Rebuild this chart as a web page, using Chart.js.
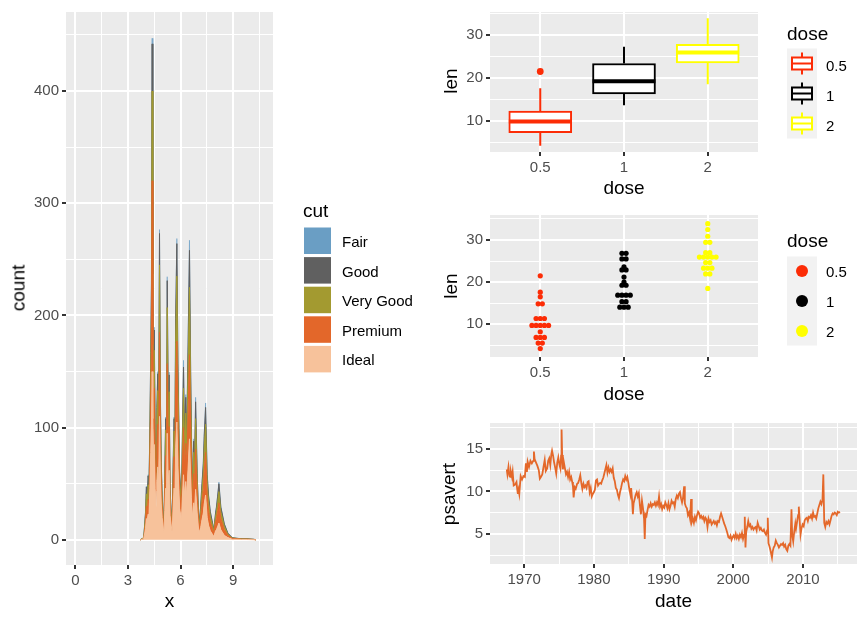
<!DOCTYPE html>
<html><head><meta charset="utf-8">
<script src="https://cdn.jsdelivr.net/npm/chart.js@4.4.1/dist/chart.umd.min.js"></script>
<style>
body{margin:0;background:#fff;width:866px;height:619px;overflow:hidden;position:relative;font-family:'Liberation Sans',Arial,Helvetica,sans-serif;}
canvas{position:absolute;left:0;top:0;}
.t{position:absolute;white-space:nowrap;color:#000;transform:translate(-50%,-50%);line-height:1;}
.ti{font-size:19px;}
.lt{font-size:19px;transform:translate(0,-50%);}
.ll{font-size:15px;transform:translate(0,-50%);}
.rot{transform:translate(-50%,-50%) rotate(-90deg);}
svg{position:absolute;left:0;top:0;}
</style></head>
<body>
<canvas id="c1" width="866" height="619"></canvas>
<canvas id="c2" width="866" height="619"></canvas>
<canvas id="c3" width="866" height="619"></canvas>
<canvas id="c4" width="866" height="619"></canvas>
<div id="overlay"></div>
<script>
// ---------- DATA ----------
// Left: stacked area of diamonds x by cut
const cutNames = ['Fair','Good','Very Good','Premium','Ideal'];
const cutX = [3.7,3.9,4.0,4.05,4.1,4.15,4.2,4.25,4.3,4.34, 4.38,4.42,4.46,4.5,4.55,4.6,4.65,4.7,4.75,4.8, 4.85,4.9,4.95,5.05,5.1,5.15,5.2,5.24,5.3,5.35, 5.4,5.52,5.58,5.63,5.68,5.72,5.79,5.85,5.9,5.95, 6.05,6.1,6.17,6.22,6.3,6.35,6.45,6.51,6.58,6.62, 6.67,6.75,6.8,6.86,6.95,7.05,7.15,7.2,7.3,7.35, 7.43,7.52,7.6,7.7,7.9,8.0,8.05,8.12,8.19,8.3, 8.5,8.7,8.95,9.2,9.5,9.8,10.2,10.3];
const idealCount   = [0,1,10,19,17,23,22,46,78,104, 150,108,72,85,46,30,52,65,48,110, 56,32,20,6,26,46,39,95,50,62, 22,6,30,46,38,82,105,66,46,28, 17,36,58,40,52,38,70,90,55,38, 20,33,26,45,24,6,11,16,24,32, 40,20,13,8,3,8,9,12,15,9, 4,2,0.5,0.5,0.3,0.3,0.1,0];
const premiumCount = [0,0,5,11,9,13,11,24,44,62, 170,66,42,50,26,14,31,38,28,75, 34,17,9,2,15,29,23,62,31,39, 10,2,18,28,23,52,72,42,28,15, 8,23,42,26,34,24,55,75,42,28, 11,26,20,36,17,3,9,13,21,29, 38,19,13,8,3,8,10,14,18,10, 5,2,0.8,0.5,0.3,0.3,0.2,0];
const veryGoodCount= [0,1,6,11,9,13,10,18,30,40, 80,42,28,34,17,10,23,30,22,60, 25,13,7,1,12,23,18,50,25,31, 8,1,14,23,19,42,58,33,23,11, 5,18,35,21,27,18,45,60,33,21, 8,19,15,27,12,2,6,9,14,19, 25,12,8,5,2,5,6,8,10,6, 3,1,0.4,0.3,0.2,0.2,0.1,0];
const goodCount    = [0,0,3,6,5,8,6,10,15,21, 42,21,15,18,9,6,12,15,10,28, 13,7,4,1,6,10,8,24,12,15, 5,1,7,11,8,21,29,16,11,6, 3,11,19,11,14,8,24,33,17,11, 5,10,7,15,6,1,4,6,9,12, 15,7,5,4,1,3,4,5,7,4, 2,1,0.2,0.1,0.1,0.1,0.05,0];
const fairCount    = [0,0,0.5,1,0.5,1,1,1.5,2.5,3, 5,3,2.5,2.5,1.5,0.5,2,2,1.5,3.5, 2,1,0.5,0,1,1.5,1.5,3.5,2,2.5, 0.5,0,1,1.5,1.5,3,4.5,2.5,1.5,0.5, 0.5,2,6,2,2.5,1.5,6,9,3,2, 0.5,2,1.5,4,1,0,0.5,1,2,2.5, 4,1.5,1,0.5,0,0.5,1,1,1.5,1, 0.5,0,0.1,0.1,0.1,0.1,0.05,0];
const cutColors = ['#6A9EC4','#606060','#A39A30','#E3672A','#F7C29B'];

// Right: ToothGrowth len by dose
const doseLabels = ['0.5','1','2'];
const doseColors = ['#FC2C06','#000000','#FFFF00'];
const lenDose05 = [4.2,11.5,7.3,5.8,6.4,10,11.2,11.2,5.2,7,15.2,21.5,17.6,9.7,14.5,10,8.2,9.4,16.5,9.7];
const lenDose1  = [16.5,16.5,15.2,17.3,22.5,17.3,13.6,14.5,18.8,15.5,19.7,23.3,23.6,26.4,20,25.2,25.8,21.2,14.5,27.3];
const lenDose2  = [23.6,18.5,33.9,25.5,26.4,32.5,26.7,21.5,23.3,29.5,25.5,26.4,22.4,24.5,24.8,30.9,26.4,27.3,29.4,23];

// Bottom right: personal savings rate
const psavertDate = [
 1967.5,1967.6,1967.75,1967.9,
 1968.0,1968.1,1968.25,1968.35,1968.5,1968.7,1968.9,
 1969.0,1969.1,1969.2,1969.3,1969.5,1969.7,1969.9,
 1970.1,1970.25,1970.4,1970.5,1970.7,1970.9,
 1971.1,1971.3,1971.4,1971.5,1971.75,1971.9,
 1972.1,1972.25,1972.4,1972.6,1972.8,1972.95,
 1973.1,1973.3,1973.45,1973.6,1973.75,1973.9,
 1974.0,1974.15,1974.3,1974.45,1974.6,1974.75,1974.9,
 1975.05,1975.2,1975.3,1975.37,1975.45,1975.55,1975.7,1975.85,
 1976.0,1976.15,1976.3,1976.45,1976.6,1976.75,1976.9,
 1977.0,1977.1,1977.25,1977.4,1977.6,1977.75,1977.9,
 1978.05,1978.2,1978.35,1978.5,1978.65,1978.8,1978.95,
 1979.1,1979.25,1979.4,1979.55,1979.7,1979.85,
 1980.0,1980.15,1980.3,1980.45,1980.6,1980.75,1980.9,
 1981.05,1981.2,1981.35,1981.5,1981.65,1981.8,1981.95,
 1982.1,1982.25,1982.4,1982.55,1982.7,1982.85,
 1983.0,1983.15,1983.3,1983.45,1983.6,1983.75,1983.9,
 1984.05,1984.2,1984.35,1984.5,1984.65,1984.8,1984.95,
 1985.1,1985.25,1985.35,1985.5,1985.6,1985.7,1985.85,
 1986.0,1986.15,1986.3,1986.45,1986.6,1986.75,1986.9,
 1987.05,1987.2,1987.3,1987.4,1987.55,1987.7,1987.85,
 1988.0,1988.15,1988.3,1988.45,1988.6,1988.75,1988.9,
 1989.05,1989.2,1989.35,1989.5,1989.65,1989.8,1989.95,
 1990.1,1990.25,1990.4,1990.55,1990.7,1990.85,
 1991.0,1991.15,1991.3,1991.45,1991.6,1991.75,1991.9,
 1992.05,1992.2,1992.35,1992.5,1992.65,1992.8,1992.95,
 1993.05,1993.2,1993.35,1993.5,1993.65,1993.8,1993.95,
 1994.05,1994.2,1994.35,1994.5,1994.65,1994.8,1994.95,
 1995.1,1995.25,1995.4,1995.55,1995.7,1995.85,
 1996.0,1996.15,1996.3,1996.45,1996.6,1996.75,1996.9,
 1997.05,1997.2,1997.35,1997.5,1997.65,1997.8,1997.95,
 1998.1,1998.25,1998.4,1998.55,1998.7,1998.85,
 1999.0,1999.15,1999.3,1999.45,1999.6,1999.75,1999.9,
 2000.05,2000.2,2000.35,2000.5,2000.65,2000.8,2000.95,
 2001.1,2001.25,2001.4,2001.55,2001.65,2001.75,2001.85,
 2002.0,2002.15,2002.3,2002.45,2002.6,2002.75,2002.9,
 2003.05,2003.2,2003.35,2003.5,2003.65,2003.8,2003.95,
 2004.1,2004.25,2004.4,2004.55,2004.7,2004.85,2004.95,
 2005.05,2005.2,2005.35,2005.55,2005.65,2005.8,2005.95,
 2006.1,2006.25,2006.4,2006.55,2006.7,2006.85,
 2007.0,2007.15,2007.3,2007.45,2007.6,2007.75,2007.9,
 2008.05,2008.2,2008.35,2008.45,2008.6,2008.75,2008.9,
 2009.0,2009.15,2009.3,2009.4,2009.55,2009.65,2009.8,2009.95,
 2010.1,2010.25,2010.4,2010.55,2010.7,2010.85,
 2011.0,2011.15,2011.3,2011.45,2011.6,2011.75,2011.9,
 2012.05,2012.2,2012.35,2012.5,2012.65,2012.8,2012.92,
 2013.05,2013.2,2013.35,2013.5,2013.65,2013.8,2013.95,
 2014.1,2014.25,2014.4,2014.55,2014.7,2014.85,
 2015.0,2015.15,2015.3];
const psavertValue = [
 12.6,12.0,12.9,11.8,
 11.7,12.3,11.7,12.3,10.7,10.8,11.1,
 10.3,9.7,10.2,9.7,11.8,11.4,11.8,
 11.7,13.3,12.3,13.5,12.9,13.6,
 13.3,13.6,14.7,13.8,13.3,13.0,
 12.5,11.5,11.7,12.0,13.0,13.7,
 12.4,12.7,13.6,13.9,13.1,14.4,
 14.8,14.2,13.4,12.8,12.1,13.4,14.0,
 13.2,12.7,14.2,17.3,14.3,12.6,13.4,12.7,
 12.0,12.3,11.7,12.3,11.4,11.7,11.1,
 10.6,9.3,10.5,10.3,10.9,11.0,11.4,
 11.9,11.0,10.3,10.9,10.5,10.7,10.4,
 11.1,11.2,9.9,10.4,9.4,9.7,
 9.9,10.2,11.3,11.4,10.7,10.9,11.0,
 10.9,11.3,11.6,12.1,12.6,13.1,12.2,
 12.8,12.3,12.6,12.3,12.7,11.6,
 11.2,10.4,10.2,9.6,9.2,9.9,10.4,
 11.0,11.4,11.2,11.8,11.4,11.7,11.0,
 10.2,9.6,10.4,8.8,7.3,8.6,9.1,
 9.6,9.9,9.4,9.8,8.4,7.3,8.9,
 8.0,6.8,4.4,7.3,7.1,7.8,8.4,
 8.2,8.6,8.2,8.5,8.4,8.7,8.3,
 8.7,8.4,9.4,8.2,8.5,7.9,8.3,
 8.1,8.7,8.4,8.0,8.6,7.9,
 8.3,8.9,8.6,8.7,8.2,9.1,9.5,
 9.2,9.7,9.9,9.2,8.7,9.3,10.6,
 8.6,8.2,8.0,7.2,7.5,6.8,9.1,
 6.4,6.8,6.3,7.0,6.6,7.2,7.6,
 7.4,6.9,7.1,6.8,7.0,6.5,
 6.9,6.7,5.8,6.8,6.4,6.6,6.1,
 6.3,6.5,6.2,6.4,6.0,6.5,6.4,
 7.0,7.4,7.0,6.6,6.2,5.9,
 5.5,5.1,4.6,4.5,4.8,4.3,4.6,
 4.8,4.5,5.0,4.5,4.8,4.4,4.9,
 4.6,5.1,4.4,4.9,7.0,3.4,5.2,
 5.8,6.5,5.9,6.1,5.6,5.8,5.5,
 5.7,5.8,5.4,6.3,5.9,5.5,5.7,
 5.4,5.3,5.5,5.1,4.9,5.4,6.9,
 3.9,3.5,3.0,2.2,2.9,3.4,3.6,
 4.2,3.9,3.7,3.4,3.6,3.8,
 3.7,3.9,3.5,3.7,3.2,3.0,3.6,
 3.8,3.6,7.9,4.9,4.1,5.3,6.2,
 5.6,6.4,7.2,8.2,6.2,4.9,5.7,6.1,
 5.9,6.6,6.8,6.9,6.5,7.0,
 6.9,7.2,6.8,7.5,7.0,7.1,6.8,
 7.4,8.0,8.4,8.8,8.5,9.0,12.0,
 6.3,5.8,6.4,6.2,6.5,6.1,6.6,
 7.1,7.4,7.3,7.5,7.4,7.2,
 7.6,7.5,7.6];
const lineColor = '#E4682A';

// ---------- HELPERS ----------
const FONT = "'Liberation Sans', Arial, Helvetica, sans-serif";
const TICK_SIZE = 15;
const W = 866, H = 619;

function axis(o) {
  const major = o.major, minor = o.minor || [];
  const all = [...major, ...minor].sort((a, b) => a - b);
  const isMajor = v => major.some(m => Math.abs(m - v) < 1e-9);
  return {
    type: 'linear', position: o.pos, min: o.min, max: o.max, offset: false,
    stacked: !!o.stacked,
    afterBuildTicks: s => { s.ticks = all.map(v => ({ value: v })); },
    afterFit: s => { if (o.pos === 'left') s.width = o.size; else s.height = o.size; },
    grid: {
      offset: false,
      color: '#FFFFFF',
      lineWidth: c => (c.tick && isMajor(c.tick.value)) ? 2 : 1,
      tickColor: c => (c.tick && isMajor(c.tick.value)) ? '#333333' : 'rgba(0,0,0,0)',
      tickLength: 4, tickWidth: 2
    },
    border: { display: false },
    ticks: {
      autoSkip: false, maxRotation: 0, minRotation: 0, padding: 3, color: '#4D4D4D',
      font: { family: FONT, size: TICK_SIZE },
      callback: (v) => {
        const i = major.findIndex(m => Math.abs(m - v) < 1e-9);
        if (i < 0) return '';
        return o.labels ? o.labels[i] : String(v);
      }
    }
  };
}
const bgPlugin = { id: 'panelbg', beforeDraw(chart) {
  const { ctx, chartArea: a } = chart; ctx.save(); ctx.fillStyle = '#EBEBEB';
  ctx.fillRect(a.left, a.top, a.right - a.left, a.bottom - a.top); ctx.restore(); } };
function pad(l, t, r, b, yw, xh) { return { left: l - yw, top: t, right: W - r, bottom: H - b - xh }; }
const baseOpts = { responsive: false, animation: false, events: [],
  plugins: { legend: { display: false }, tooltip: { enabled: false } } };

// ---------- CHART 1: stacked area ----------
const P1 = { l: 66, t: 10, r: 273, b: 565 };
const stackOrder = [ [idealCount, 4], [premiumCount, 3], [veryGoodCount, 2], [goodCount, 1], [fairCount, 0] ];
new Chart(document.getElementById('c1'), {
  type: 'line',
  data: { datasets: stackOrder.map(([arr, ci], k) => ({
    label: cutNames[ci],
    data: cutX.map((x, i) => ({ x, y: arr[i] })),
    backgroundColor: cutColors[ci], borderColor: cutColors[ci], borderWidth: ci === 0 ? 0.6 : 1,
    fill: k === 0 ? 'origin' : '-1', pointRadius: 0, tension: 0
  })) },
  options: { ...baseOpts, layout: { padding: pad(P1.l, P1.t, P1.r, P1.b, 56, 40) },
    scales: {
      x: axis({ pos: 'bottom', min: -0.537, max: 11.277, major: [0, 3, 6, 9], minor: [1.5, 4.5, 7.5, 10.5], size: 40 }),
      y: axis({ pos: 'left', min: -22.4, max: 470.4, major: [0, 100, 200, 300, 400], minor: [50, 150, 250, 350, 450], size: 56, stacked: true })
    } },
  plugins: [bgPlugin]
});

// ---------- stats helpers ----------
const doseData = [lenDose05, lenDose1, lenDose2];
function quant(s, p) { const h = (s.length - 1) * p, lo = Math.floor(h); return s[lo] + (h - lo) * (s[Math.min(lo + 1, s.length - 1)] - s[lo]); }
const boxStats = doseData.map(d => {
  const s = [...d].sort((a, b) => a - b);
  const q1 = quant(s, 0.25), med = quant(s, 0.5), q3 = quant(s, 0.75), iqr = q3 - q1;
  const inside = s.filter(v => v >= q1 - 1.5 * iqr && v <= q3 + 1.5 * iqr);
  return { q1, med, q3, lo: inside[0], hi: inside[inside.length - 1], out: s.filter(v => v < q1 - 1.5 * iqr || v > q3 + 1.5 * iqr) };
});

// ---------- CHART 2: boxplot ----------
const P2 = { l: 490, t: 10, r: 758, b: 152 };
const boxHalf = 0.375;
const ds2 = [];
boxStats.forEach((b, i) => {
  const x = i + 1;
  ds2.push({ type: 'line', order: 3, data: [{ x, y: b.lo }, { x, y: b.q1 }, { x, y: null }, { x, y: b.q3 }, { x, y: b.hi }],
    borderColor: doseColors[i], borderWidth: 2, pointRadius: 0, spanGaps: false, fill: false });
  ds2.push({ type: 'line', order: 1, data: [{ x: x - boxHalf, y: b.med }, { x: x + boxHalf, y: b.med }],
    borderColor: doseColors[i], borderWidth: 4, pointRadius: 0, fill: false, borderCapStyle: 'butt' });
  ds2.push({ type: 'scatter', order: 0, data: b.out.map(v => ({ x, y: v })),
    pointRadius: 3.4, backgroundColor: doseColors[i], borderWidth: 0 });
});
ds2.push({ type: 'bar', order: 2, data: boxStats.map((b, i) => ({ x: i + 1, y: [b.q1, b.q3] })),
  backgroundColor: '#FFFFFF', borderColor: doseColors, borderWidth: 2, borderSkipped: false, barThickness: 63 });
new Chart(document.getElementById('c2'), {
  type: 'scatter', data: { datasets: ds2 },
  options: { ...baseOpts, layout: { padding: pad(P2.l, P2.t, P2.r, P2.b, 50, 40) },
    scales: {
      x: axis({ pos: 'bottom', min: 0.4, max: 3.6, major: [1, 2, 3], labels: doseLabels, size: 40 }),
      y: axis({ pos: 'left', min: 2.715, max: 35.385, major: [10, 20, 30], minor: [5, 15, 25, 35], size: 50 })
    } },
  plugins: [bgPlugin]
});

// ---------- CHART 3: dotplot ----------
const P3 = { l: 490, t: 215, r: 758, b: 357 };
const allLen = [].concat(...doseData);
const binwidth = (Math.max(...allLen) - Math.min(...allLen)) / 30;
const y3min = 2.2, y3max = 35.95, x3min = 0.4, x3max = 3.6;
// dot diameter expressed in x data units (binwidth in y pixels / x pixels-per-unit)
const dotW = binwidth * ((P3.b - P3.t) / (y3max - y3min)) / ((P3.r - P3.l) / (x3max - x3min));
function dotBins(vals) {
  const s = [...vals].sort((a, b) => a - b); const bins = []; let i = 0;
  while (i < s.length) { const start = s[i]; const m = [];
    while (i < s.length && s[i] < start + binwidth - 1e-9) { m.push(s[i]); i++; }
    bins.push({ c: (m[0] + m[m.length - 1]) / 2, n: m.length }); }
  return bins;
}
const ds3 = doseData.map((d, gi) => {
  const pts = [];
  dotBins(d).forEach(b => { for (let k = 1; k <= b.n; k++) pts.push({ x: gi + 1 + (k - (b.n + 1) / 2) * dotW, y: b.c }); });
  return { data: pts, pointRadius: 2.6, backgroundColor: doseColors[gi], borderWidth: 0 };
});
new Chart(document.getElementById('c3'), {
  type: 'scatter', data: { datasets: ds3 },
  options: { ...baseOpts, layout: { padding: pad(P3.l, P3.t, P3.r, P3.b, 50, 40) },
    scales: {
      x: axis({ pos: 'bottom', min: x3min, max: x3max, major: [1, 2, 3], labels: doseLabels, size: 40 }),
      y: axis({ pos: 'left', min: y3min, max: y3max, major: [10, 20, 30], minor: [5, 15, 25, 35], size: 50 })
    } },
  plugins: [bgPlugin]
});

// ---------- CHART 4: line ----------
const P4 = { l: 490, t: 423, r: 857, b: 564 };
new Chart(document.getElementById('c4'), {
  type: 'line',
  data: { datasets: [{ data: psavertDate.map((x, i) => ({ x, y: psavertValue[i] })), borderColor: lineColor,
    borderWidth: 1.8, pointRadius: 0, tension: 0, fill: false }] },
  options: { ...baseOpts, layout: { padding: pad(P4.l, P4.t, P4.r, P4.b, 50, 40) },
    scales: {
      x: axis({ pos: 'bottom', min: 1965.1, max: 2017.75, major: [1970, 1980, 1990, 2000, 2010], minor: [1965, 1975, 1985, 1995, 2005, 2015], size: 40 }),
      y: axis({ pos: 'left', min: 1.445, max: 18.055, major: [5, 10, 15], minor: [2.5, 7.5, 12.5, 17.5], size: 50 })
    } },
  plugins: [bgPlugin]
});

// ---------- TEXT + LEGENDS (HTML) ----------
const ov = document.getElementById('overlay');
function txt(s, x, y, cls) { const d = document.createElement('div'); d.className = 't ' + cls; d.textContent = s; d.style.left = x + 'px'; d.style.top = y + 'px'; ov.appendChild(d); }
// axis titles
txt('count', 18, 287.5, 'ti rot');
txt('x', 169.5, 600, 'ti');
txt('len', 450, 81, 'ti rot');
txt('dose', 624, 187, 'ti');
txt('len', 450, 286, 'ti rot');
txt('dose', 624, 393, 'ti');
txt('psavert', 448, 493.5, 'ti rot');
txt('date', 673.5, 600, 'ti');

// legend: cut
txt('cut', 303, 210, 'lt');
const svgNS = 'http://www.w3.org/2000/svg';
const svg = document.createElementNS(svgNS, 'svg'); svg.setAttribute('width', W); svg.setAttribute('height', H); ov.appendChild(svg);
function el(name, attrs) { const e = document.createElementNS(svgNS, name); for (const k in attrs) e.setAttribute(k, attrs[k]); svg.appendChild(e); return e; }
cutNames.forEach((n, i) => {
  const top = 227.5 + i * 29.6;
  el('rect', { x: 304, y: top, width: 27, height: 26.5, fill: cutColors[i] });
  txt(n, 342, top + 13.5, 'll');
});
// legend: dose (boxplot)
txt('dose', 787, 33, 'lt');
el('rect', { x: 787, y: 48.5, width: 30, height: 90, fill: '#F2F2F2' });
doseLabels.forEach((n, i) => {
  const cy = 63.5 + i * 30;
  el('line', { x1: 802, x2: 802, y1: cy - 11, y2: cy + 11, stroke: doseColors[i], 'stroke-width': 2 });
  el('rect', { x: 792, y: cy - 6, width: 20, height: 12, fill: '#FFFFFF', stroke: doseColors[i], 'stroke-width': 2 });
  el('line', { x1: 792, x2: 812, y1: cy, y2: cy, stroke: doseColors[i], 'stroke-width': 2 });
  txt(n, 826, cy + 1, 'll');
});
// legend: dose (dotplot)
txt('dose', 787, 239.5, 'lt');
el('rect', { x: 787, y: 256.5, width: 30, height: 89, fill: '#F2F2F2' });
doseLabels.forEach((n, i) => {
  const cy = 271 + i * 30;
  el('circle', { cx: 802, cy: cy, r: 6, fill: doseColors[i] });
  txt(n, 826, cy, 'll');
});
</script>
</body></html>
